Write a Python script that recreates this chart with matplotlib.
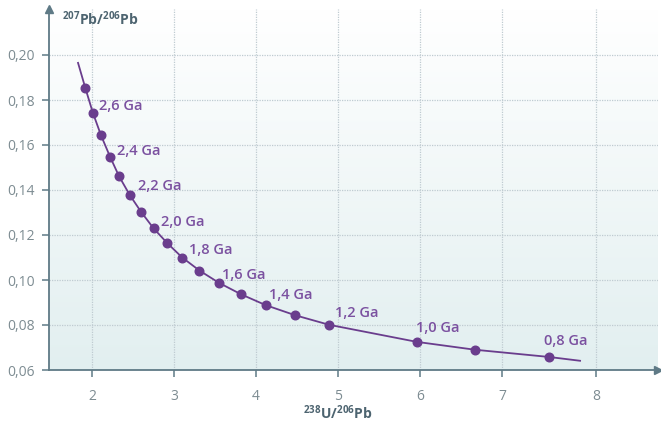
import numpy as np
import matplotlib.pyplot as plt
from matplotlib.colors import LinearSegmentedColormap

# Concordia points (238U/206Pb, 207Pb/206Pb) at 0.1 Ga steps
ages = [2.7, 2.6, 2.5, 2.4, 2.3, 2.2, 2.1, 2.0, 1.9, 1.8, 1.7, 1.6,
        1.5, 1.4, 1.3, 1.2, 1.0, 0.9, 0.8]
u_pb = [1.92, 2.01, 2.11, 2.22, 2.33, 2.46, 2.60, 2.75, 2.92, 3.10, 3.31, 3.55,
        3.82, 4.12, 4.48, 4.89, 5.96, 6.67, 7.57]
pb_pb = [0.1852, 0.1744, 0.1643, 0.1548, 0.1461, 0.1378, 0.1302, 0.1230, 0.1163,
         0.1100, 0.1042, 0.0987, 0.0936, 0.0888, 0.0843, 0.0801, 0.0725, 0.0690, 0.0658]

# ends of the drawn curve
curve_start = (1.83, 0.1965)
curve_end = (7.95, 0.0641)

labelled_ages = [2.6, 2.4, 2.2, 2.0, 1.8, 1.6, 1.4, 1.2, 1.0, 0.8]
# label offsets in pixels (left edge, vertical centre)
label_offsets = [(6, 7), (7, 6), (8, 9), (7, 6), (7, 7), (3, 8), (3, 10),
                 (6, 12), (-1, 14), (-5, 16)]

x_ticks = [2, 3, 4, 5, 6, 7, 8.15]
x_ticklabels = ['2', '3', '4', '5', '6', '7', '8']
y_ticks = [0.06, 0.08, 0.10, 0.12, 0.14, 0.16, 0.18, 0.20]
y_ticklabels = ['0,06', '0,08', '0,10', '0,12', '0,14', '0,16', '0,18', '0,20']

purple = '#6a3d8d'
label_purple = '#7b51a0'
axis_col = '#5f7a86'
tick_col = '#7d8c92'
grid_col = '#bfcbd1'

plt.rcParams['font.family'] = ['Open Sans', 'DejaVu Sans']
plt.rcParams['mathtext.default'] = 'regular'

fig = plt.figure(figsize=(6.61, 4.26), dpi=100)
W, H = 661, 426
ax = fig.add_axes([49 / W, 56 / H, (658 - 49) / W, (370 - 9) / H])

ax.set_xlim(1.476, 8.90)
ax.set_ylim(0.06, 0.06 + (370 - 9) / 2250)

# soft vertical gradient behind the plot
grad = np.linspace(0, 1, 256).reshape(-1, 1)
cmap = LinearSegmentedColormap.from_list('bg', ['#e2eff0', '#ffffff'])
ax.imshow(grad, extent=[0, 1, 0, 1], transform=ax.transAxes, aspect='auto',
          cmap=cmap, origin='lower', zorder=0)

# dotted grid
for xv in x_ticks:
    ax.axvline(xv, color=grid_col, lw=0.9, ls=(0, (1, 1)), zorder=1)
for yv in y_ticks[1:]:
    ax.axhline(yv, color=grid_col, lw=0.9, ls=(0, (1, 1)), zorder=1)

# concordia curve and points
line_x = [curve_start[0]] + u_pb + [curve_end[0]]
line_y = [curve_start[1]] + pb_pb + [curve_end[1]]
ax.plot(line_x, line_y, color=purple, lw=1.3, zorder=3)
ax.plot(u_pb, pb_pb, 'o', color=purple, ms=6.2, zorder=4)

for age, (dx, dy) in zip(labelled_ages, label_offsets):
    i = ages.index(age)
    ax.annotate(f'{age:.1f} Ga'.replace('.', ','), (u_pb[i], pb_pb[i]),
                xytext=(dx, dy), textcoords='offset pixels',
                ha='left', va='center', fontsize=10.5, color=label_purple,
                fontweight='semibold', zorder=5)

# axes with arrow heads
for s in ['top', 'right']:
    ax.spines[s].set_visible(False)
for s in ['left', 'bottom']:
    ax.spines[s].set_color(axis_col)
    ax.spines[s].set_linewidth(1.3)
    ax.spines[s].set_zorder(6)
ax.plot(1, 0, '>', transform=ax.transAxes, color=axis_col, ms=6, clip_on=False, zorder=7)
ax.plot(0, 1, '^', transform=ax.transAxes, color=axis_col, ms=6, clip_on=False, zorder=7)

ax.set_xticks(x_ticks, x_ticklabels)
ax.set_yticks(y_ticks, y_ticklabels)
ax.tick_params(colors=axis_col, labelcolor=tick_col, labelsize=10, length=5,
               width=1.1, direction='out')
ax.tick_params(axis='x', pad=9)
ax.tick_params(axis='y', pad=5)

fig.text(62 / W, 1 - 19 / H, r'$^{207}$Pb/$^{206}$Pb', ha='left', va='center',
         fontsize=10, fontweight='bold', color='#4d6470')
fig.text(338 / W, 1 - 413 / H, r'$^{238}$U/$^{206}$Pb', ha='center', va='center',
         fontsize=10, fontweight='bold', color='#4d6470')

fig.savefig('out.png', dpi=100)
